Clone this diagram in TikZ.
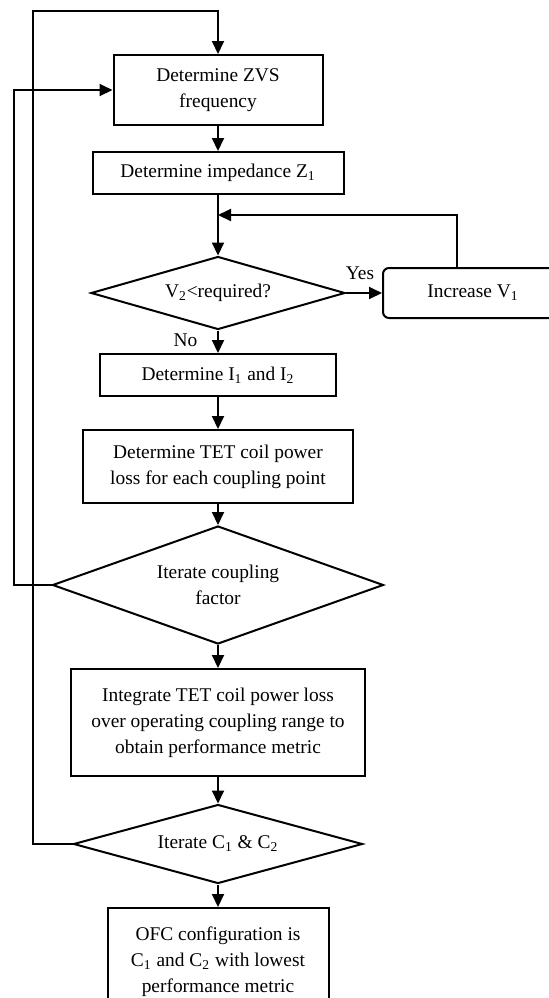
\documentclass[tikz,border=0pt]{standalone}
\usepackage{fontspec}
\setmainfont{Liberation Serif}
\usetikzlibrary{shapes.geometric, arrows.meta, positioning}

\begin{document}
\begin{tikzpicture}[x=0.5pt, y={(0pt,-0.5pt)},
  every node/.style={font=\fontsize{9.7}{13}\selectfont},
  box/.style={draw, line width=1pt, align=center, inner sep=0pt},
  decision/.style={draw, diamond, line width=1pt, align=center, inner sep=0pt},
  arr/.style={line width=1pt, -{Triangle[length=6.5pt,width=6pt]}}]
  \clip (0,0) rectangle (549,998);
  % main column
  \node[box, minimum width=104.5pt, minimum height=35pt] (zvs) at (218,90) {Determine ZVS\\frequency};
  \node[box, minimum width=125.5pt, minimum height=21pt] (imp) at (218,173) {Determine impedance Z\textsubscript{1}};
  \node[decision, aspect=3.5, minimum width=127pt, minimum height=36.5pt] (vcheck) at (218,293) {V\textsubscript{2}<required?};
  \node[box, rounded corners=3pt, minimum width=90pt, minimum height=25pt] (incv) at (473,293) {Increase V\textsubscript{1}};
  \node[box, minimum width=118pt, minimum height=21pt] (curr) at (218,375) {Determine I\textsubscript{1} and I\textsubscript{2}};
  \node[box, minimum width=135pt, minimum height=36.5pt] (loss) at (218,466.5) {Determine TET coil power\\loss for each coupling point};
  \node[decision, aspect=2.8, minimum width=165.5pt, minimum height=59pt] (kloop) at (218,585) {Iterate coupling\\factor};
  \node[box, minimum width=147pt, minimum height=53.5pt] (integ) at (218,722.5) {Integrate TET coil power loss\\over operating coupling range to\\obtain performance metric};
  \node[decision, aspect=3.7, minimum width=144.5pt, minimum height=39.5pt] (cloop) at (218,844) {Iterate C\textsubscript{1} \& C\textsubscript{2}};
  \node[box, minimum width=110.5pt, minimum height=53.5pt] (ofc) at (218,961.5) {OFC configuration is\\C\textsubscript{1} and C\textsubscript{2} with lowest\\performance metric};
  \node (yes) at (360,273) {Yes};
  \node (no) at (185.5,340) {No};
  % loop corners
  \coordinate (join) at (218,215);
  \coordinate (outer) at (14,90);
  \coordinate (topleft) at (33,11);
  \draw[arr] (zvs) -- (imp);
  \draw[arr] (imp) -- (vcheck);
  \draw[arr] (vcheck.east) -- (incv.west);
  \draw[arr] ([xshift=-8pt]incv.north) |- (join);
  \draw[arr] (vcheck) -- (curr);
  \draw[arr] (curr) -- (loss);
  \draw[arr] (loss) -- (kloop);
  \draw[arr] (kloop) -- (integ);
  \draw[arr] (integ) -- (cloop);
  \draw[arr] (cloop) -- (ofc);
  \draw[arr] (kloop.west) -| (outer) -- (zvs.west);
  \draw[arr] (cloop.west) -| (topleft) -| (zvs.north);
\end{tikzpicture}
\end{document}
